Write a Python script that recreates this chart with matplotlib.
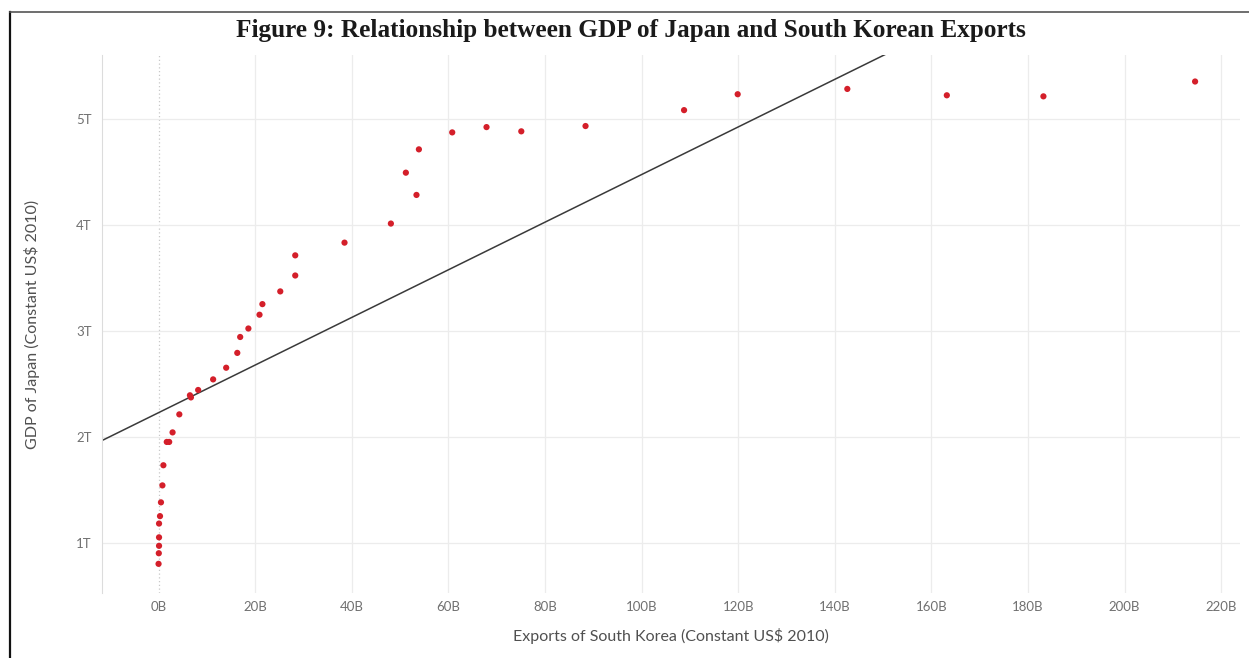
import numpy as np
import matplotlib.pyplot as plt
from matplotlib.ticker import FuncFormatter
from matplotlib.lines import Line2D

# exports of South Korea (billions, constant US$ 2010)
exports = [0.0, 0.05, 0.1, 0.1, 0.1, 0.3, 0.5, 0.8, 1.0, 1.7, 2.2, 2.9, 4.3,
           6.5, 6.7, 8.2, 11.3, 14.0, 16.3, 16.9, 18.6, 20.9, 21.5,
           25.2, 28.3, 28.3, 38.5, 48.1, 53.4, 51.2, 53.9,
           60.8, 67.9, 75.1, 88.4, 108.8, 119.9, 142.6, 163.2, 183.2, 214.6]
# GDP of Japan (trillions, constant US$ 2010)
gdp = [0.80, 0.90, 0.97, 1.05, 1.18, 1.25, 1.38, 1.54, 1.73, 1.95, 1.95, 2.04, 2.21,
       2.39, 2.37, 2.44, 2.54, 2.65, 2.79, 2.94, 3.02, 3.15, 3.25,
       3.37, 3.52, 3.71, 3.83, 4.01, 4.28, 4.49, 4.71,
       4.87, 4.92, 4.88, 4.93, 5.08, 5.23, 5.28, 5.22, 5.21, 5.35]

trend_intercept = 2.226   # T at 0B
trend_slope = 0.02246     # T per B

x_ticks = [0, 20, 40, 60, 80, 100, 120, 140, 160, 180, 200, 220]
y_ticks = [1, 2, 3, 4, 5]

fig = plt.figure(figsize=(12.49, 6.58), dpi=100)
ax = fig.add_axes([0.0817, 0.0988, 0.9111, 0.8176])

xlim = (-11.7, 223.9)
ylim = (0.525, 5.60)
ax.set_xlim(*xlim)
ax.set_ylim(*ylim)

# grid
for xt in x_ticks:
    if xt == 0:
        ax.axvline(xt, color='#c8c8c8', lw=0.9, ls=(0, (1, 2)), zorder=1)
    else:
        ax.axvline(xt, color='#ececec', lw=0.9, zorder=1)
for yt in y_ticks:
    ax.axhline(yt, color='#ececec', lw=0.9, zorder=1)

# trend line
tx = np.array(xlim)
ax.plot(tx, trend_intercept + trend_slope * tx, color='#3a3a3a', lw=1.1, zorder=2)

ax.scatter(exports, gdp, s=20, color='#d41f2a', edgecolors='none', zorder=3)

ax.set_xticks(x_ticks)
ax.set_yticks(y_ticks)
ax.xaxis.set_major_formatter(FuncFormatter(lambda v, p: f"{int(v)}B"))
ax.yaxis.set_major_formatter(FuncFormatter(lambda v, p: f"{int(v)}T"))
ax.tick_params(length=0, labelsize=9.5, labelcolor='#707070')
ax.tick_params(axis='x', pad=5.5)
ax.tick_params(axis='y', pad=7.5)
for lab in ax.get_xticklabels() + ax.get_yticklabels():
    lab.set_family('Lato')

for side in ['top', 'right', 'bottom']:
    ax.spines[side].set_visible(False)
ax.spines['left'].set_color('#dcdcdc')
ax.spines['left'].set_linewidth(0.8)

ax.set_xlabel("Exports of South Korea (Constant US$ 2010)", family='Lato',
              fontsize=11.5, color='#505050', labelpad=11)
ax.set_ylabel("GDP of Japan (Constant US$ 2010)", family='Lato',
              fontsize=11.5, color='#505050', labelpad=26)

fig.text(0.505, 0.953, "Figure 9: Relationship between GDP of Japan and South Korean Exports",
         ha='center', va='center', family='Liberation Serif', fontweight='bold',
         fontsize=18.2, color='#1a1a1a')

# page frame
fig.add_artist(Line2D([0.008, 0.008], [0, 0.982], color='#111111', lw=1.6,
                      transform=fig.transFigure))
fig.add_artist(Line2D([0.008, 1.0], [0.982, 0.982], color='#555555', lw=1.2,
                      transform=fig.transFigure))

fig.savefig("out.png", dpi=100)
